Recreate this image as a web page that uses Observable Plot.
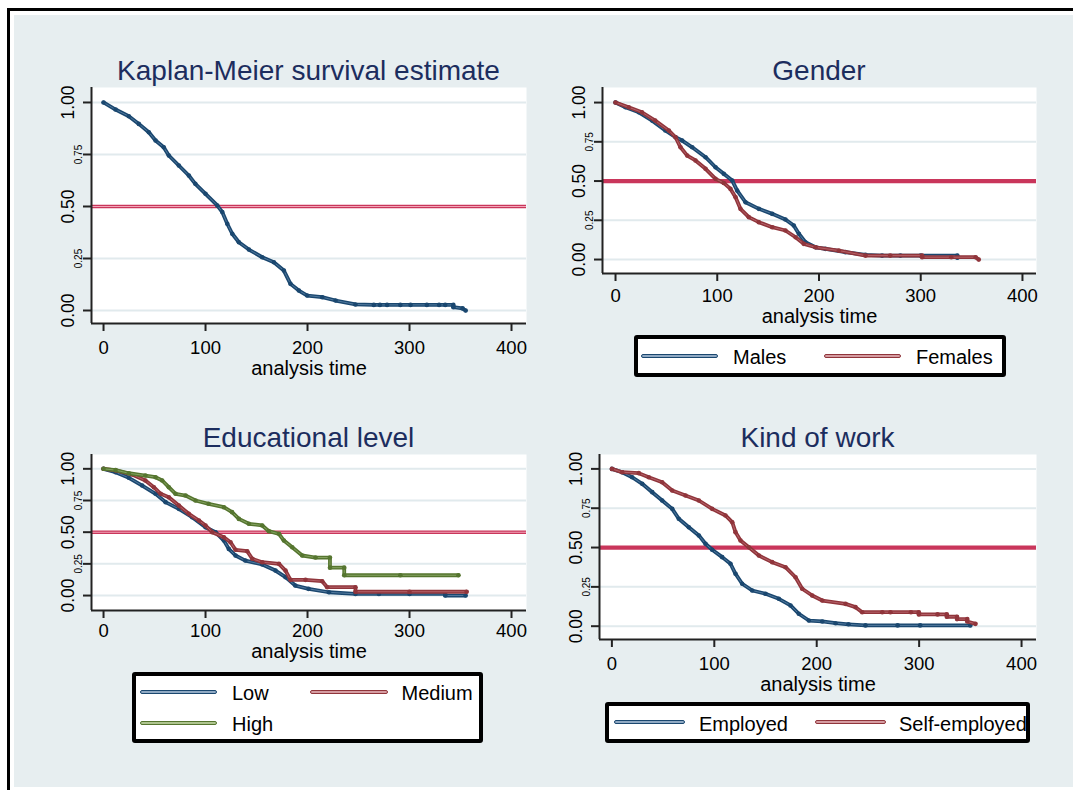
<!DOCTYPE html>
<html><head><meta charset="utf-8">
<script src="https://cdn.jsdelivr.net/npm/d3@7"></script>
<script src="https://cdn.jsdelivr.net/npm/@observablehq/plot@0.6"></script>
<style>
body{margin:0;background:#fff;font-family:"Liberation Sans",Arial,sans-serif;}
#root{position:relative;width:1073px;height:790px;overflow:hidden;}
.abs{position:absolute;}
.title{position:absolute;font-size:28px;line-height:28px;color:#1c2d5e;white-space:nowrap;transform:translateX(-50%);}
.legend{position:absolute;box-sizing:border-box;border:4px solid #000;border-radius:3px;background:#fff;}
.ltxt{position:absolute;font-size:20px;line-height:20px;color:#000;white-space:nowrap;}
.lkey{position:absolute;box-sizing:border-box;height:4px;border-radius:2px;border:1px solid;}
</style></head><body><div id="root"></div>
<script>
// ---------- data ----------
const xTicks = [0, 100, 200, 300, 400];
const yTicks = [0, 0.25, 0.5, 0.75, 1];
const yMajor = [0, 0.5, 1];
const yMinor = [0.25, 0.75];
const refLevel = [0.5];
const xTitle = "analysis time";
const titles = ["Kaplan-Meier survival estimate", "Gender", "Educational level", "Kind of work"];
const legendGender = ["Males", "Females"];
const legendEdu = ["Low", "Medium", "High"];
const legendWork = ["Employed", "Self-employed"];

// [analysis time, survival]
const kmAll = [[0,1.0],[11.8,0.966],[24.8,0.934],[34.6,0.897],[44.4,0.857],[51,0.817],[59,0.785],[64,0.745],[73.8,0.697],[83.6,0.649],[90,0.609],[100,0.561],[111.5,0.505],[116.4,0.473],[121.3,0.417],[126.2,0.369],[132.7,0.328],[142.5,0.293],[155.6,0.256],[167,0.232],[176.8,0.192],[183.3,0.128],[191.5,0.096],[199.7,0.072],[214.4,0.064],[227.5,0.048],[247,0.029],[265,0.027],[271,0.027],[278,0.027],[291,0.027],[301,0.027],[317,0.027],[329,0.027],[335,0.027],[343,0.027],[343,0.016],[352,0.010],[355,0.0]];

const males = [[0,1],[9.8,0.970],[22.9,0.938],[36,0.885],[49,0.822],[59,0.779],[65.5,0.758],[75.4,0.715],[88.5,0.652],[98.3,0.588],[106.4,0.546],[114.7,0.503],[119.6,0.439],[127.8,0.365],[140.9,0.323],[154,0.291],[167,0.255],[175.2,0.217],[180.2,0.164],[186.7,0.110],[196.6,0.078],[206.4,0.068],[226,0.047],[245.7,0.030],[262,0.025],[280,0.025],[300,0.025],[336,0.025],[336,0.012]];
const females = [[0,1],[13,0.97],[26,0.938],[39,0.885],[52.4,0.822],[59,0.779],[63.9,0.715],[70.5,0.662],[78.6,0.631],[88.5,0.578],[98.3,0.514],[106.4,0.488],[113,0.450],[118,0.397],[122.8,0.323],[131,0.270],[140.8,0.238],[154,0.206],[167,0.185],[177,0.142],[185,0.100],[196.6,0.078],[219.5,0.057],[245.7,0.025],[270,0.025],[301.4,0.025],[301.4,0.015],[330,0.015],[354,0.015],[357,0.0]];

const eduLow = [[0,1],[11.8,0.973],[24.8,0.929],[37.9,0.868],[51,0.803],[60.8,0.737],[73.8,0.684],[86.9,0.618],[100,0.539],[109.8,0.500],[118,0.434],[122.8,0.368],[129.4,0.316],[139,0.276],[155.6,0.245],[168.6,0.197],[178.4,0.145],[188,0.079],[201,0.053],[220.9,0.026],[247,0.013],[270,0.013],[300,0.013],[335,0.013],[335,0.0],[355,0.0]];
const eduMedium = [[0,1],[11.8,0.987],[28,0.955],[41,0.908],[49.3,0.855],[56,0.803],[64,0.776],[73.8,0.710],[83.6,0.645],[93.5,0.592],[100,0.553],[106.5,0.500],[118,0.460],[124.5,0.421],[129.4,0.361],[140.9,0.350],[145.8,0.290],[155.6,0.263],[172,0.250],[178.4,0.197],[183.3,0.124],[198,0.124],[214.4,0.113],[219.3,0.066],[247,0.066],[247,0.03],[300,0.03],[356,0.03]];
const eduHigh = [[0,1],[11.8,0.99],[24.8,0.965],[41,0.947],[51,0.934],[57.5,0.908],[64,0.855],[70.6,0.803],[80.4,0.789],[90.2,0.750],[103,0.724],[118,0.697],[126,0.658],[132.7,0.605],[142.5,0.566],[155.6,0.553],[162,0.508],[172,0.487],[176.8,0.434],[185,0.381],[194.8,0.316],[207.8,0.30],[222,0.30],[222,0.22],[236,0.22],[236,0.16],[291,0.16],[348,0.16]];

const employed = [[0,1],[10,0.979],[19.8,0.947],[29.6,0.905],[39.4,0.852],[49.1,0.799],[58.9,0.746],[65.3,0.683],[75.1,0.629],[84.9,0.577],[91.4,0.524],[97.9,0.486],[107.7,0.439],[115.8,0.397],[120.7,0.333],[127.2,0.270],[137,0.227],[150,0.206],[163,0.174],[174.4,0.132],[182.5,0.079],[192.3,0.036],[205.4,0.030],[218.4,0.019],[231,0.012],[247.6,0.005],[279,0.005],[301,0.005],[350,0.005]];
const selfEmployed = [[0,1],[10,0.979],[26.3,0.973],[36,0.947],[49.1,0.915],[58.9,0.863],[71.9,0.831],[84.9,0.799],[97.9,0.746],[110.9,0.704],[117.5,0.661],[120.7,0.598],[125.6,0.545],[133.7,0.502],[143.5,0.449],[156.5,0.407],[169.5,0.375],[179.3,0.311],[185.8,0.238],[195.6,0.195],[205.4,0.163],[228.1,0.142],[237.9,0.121],[244.4,0.089],[264,0.089],[272,0.089],[292,0.089],[299.7,0.089],[299.7,0.075],[318,0.075],[327,0.075],[327,0.06],[337,0.06],[337,0.045],[347,0.045],[347,0.03],[355,0.015]];

// ---------- styles ----------
const C = {navy: "#1a476f", maroon: "#90353b", green: "#55752f"};
const T = {navy: "#587fa3", maroon: "#b9676e", green: "#8aa766"};
const K = {navy: "#8fa9c3", maroon: "#d59ca1", green: "#aec48f"};
const refDark = "#c9365b", refLight = "#f2a6b9";

const root = document.getElementById("root");
function el(cls, style, text) {
  const d = document.createElement("div");
  d.className = cls;
  Object.assign(d.style, style);
  if (text != null) d.textContent = text;
  root.appendChild(d);
  return d;
}
// outer frame and background
el("abs", {left: "7px", top: "8px", width: "1100px", height: "800px", border: "3px solid #000", boxSizing: "border-box"});
el("abs", {left: "14px", top: "15px", width: "1059px", height: "772px", background: "#e7eef0"});

const panels = [
  {rect: [91, 526, 87, 323], xd: [-11.8, 414.7], yd: [-0.0625, 1.072], title: titles[0], tb: 81, tickDy: 30, labDy: 51, thin: true,
   series: [{d: kmAll, c: "navy"}]},
  {rect: [602, 1036, 87, 273], xd: [-12.8, 413.8], yd: [-0.089, 1.096], title: titles[1], tb: 81, tickDy: 28, labDy: 49.5, thin: false,
   series: [{d: males, c: "navy"}, {d: females, c: "maroon"}]},
  {rect: [91, 526, 454, 610], xd: [-11.8, 414.7], yd: [-0.118, 1.113], title: titles[2], tb: 447.7, tickDy: 26.5, labDy: 47.5, thin: true,
   series: [{d: eduLow, c: "navy"}, {d: eduMedium, c: "maroon"}, {d: eduHigh, c: "green"}]},
  {rect: [599, 1036, 454, 639], xd: [-12.1, 414.6], yd: [-0.0846, 1.0915], title: titles[3], tb: 447.7, tickDy: 30, labDy: 51.5, thin: false,
   series: [{d: employed, c: "navy"}, {d: selfEmployed, c: "maroon"}]}
];

const mL = 70, mR = 6, mT = 6, mB = 66;
const fx = d => d[0], fy = d => d[1];

for (const p of panels) {
  const [x0, x1, y0, y1] = p.rect;
  const W = mL + (x1 - x0) + mR, H = mT + (y1 - y0) + mB;
  const marks = [
    Plot.frame({fill: "white", stroke: "none"}),
    Plot.gridY({ticks: yTicks, stroke: "#e1eaed", strokeOpacity: 1, strokeWidth: 2})
  ];
  if (p.thin) {
    marks.push(Plot.ruleY(refLevel, {stroke: refDark, strokeWidth: 3.4}));
    marks.push(Plot.ruleY(refLevel, {stroke: refLight, strokeWidth: 1.1}));
  } else {
    marks.push(Plot.ruleY(refLevel, {stroke: refDark, strokeWidth: 4.2}));
  }
  for (const s of p.series) {
    marks.push(Plot.line(s.d, {x: fx, y: fy, stroke: C[s.c], strokeWidth: 3.8, strokeLinejoin: "round", strokeLinecap: "round"}));
    marks.push(Plot.line(s.d, {x: fx, y: fy, stroke: T[s.c], strokeWidth: 0.9}));
    marks.push(Plot.dot(s.d, {x: fx, y: fy, r: 2.3, fill: C[s.c], stroke: "none"}));
  }
  marks.push(
    Plot.ruleX([p.xd[0]], {stroke: "#222", strokeWidth: 2}),
    Plot.ruleY([p.yd[0]], {stroke: "#222", strokeWidth: 2}),
    Plot.axisX({ticks: xTicks, tickSize: 8, tickFormat: () => "", label: null, stroke: "#222", strokeWidth: 2}),
    Plot.axisY({ticks: yTicks, tickSize: 8, tickFormat: () => "", label: null, stroke: "#222", strokeWidth: 2}),
    Plot.text(xTicks, {x: d => d, text: d => String(d), frameAnchor: "bottom", dy: p.tickDy, fontSize: 18.5, fill: "#000"}),
    Plot.text([xTitle], {frameAnchor: "bottom", text: d => d, dy: p.labDy, fontSize: 20, fill: "#000"}),
    Plot.text(yMajor, {y: d => d, text: d => d.toFixed(2), frameAnchor: "left", textAnchor: "middle", rotate: -90, dx: -23, fontSize: 17.5, fill: "#000"}),
    Plot.text(yMinor, {y: d => d, text: d => d.toFixed(2), frameAnchor: "left", textAnchor: "middle", rotate: -90, dx: -13, fontSize: 10, fill: "#000"})
  );
  const svg = Plot.plot({
    width: W, height: H,
    marginLeft: mL, marginRight: mR, marginTop: mT, marginBottom: mB,
    x: {domain: p.xd},
    y: {domain: p.yd},
    style: {background: "transparent", fontFamily: "Liberation Sans, Arial, sans-serif", overflow: "visible"},
    marks
  });
  svg.style.position = "absolute";
  svg.style.left = (x0 - mL) + "px";
  svg.style.top = (y0 - mT) + "px";
  root.appendChild(svg);
  el("title", {left: ((x0 + x1) / 2) + "px", top: (p.tb - 28 * 0.8465) + "px"}, p.title);
}

// ---------- legends ----------
function legend(box, items) {
  const [l, r, t, b] = box;
  el("legend", {left: l + "px", top: t + "px", width: (r - l) + "px", height: (b - t) + "px"});
  for (const it of items) {
    el("lkey", {left: it.k0 + "px", width: (it.k1 - it.k0) + "px", top: (it.ky - 2) + "px", borderColor: C[it.c], background: K[it.c]});
    el("ltxt", {left: it.tx + "px", top: (it.ty - 10) + "px"}, it.label);
  }
}
legend([633.5, 1006, 335, 377], [
  {label: legendGender[0], c: "navy", k0: 641, k1: 718, ky: 355.5, tx: 733, ty: 357},
  {label: legendGender[1], c: "maroon", k0: 824, k1: 901, ky: 355.5, tx: 916, ty: 357}
]);
legend([132, 483, 672, 743], [
  {label: legendEdu[0], c: "navy", k0: 140, k1: 217, ky: 692, tx: 232, ty: 692.5},
  {label: legendEdu[1], c: "maroon", k0: 310, k1: 388, ky: 692, tx: 401.5, ty: 692.5},
  {label: legendEdu[2], c: "green", k0: 140, k1: 217, ky: 722.5, tx: 232, ty: 724}
]);
legend([604.5, 1030, 702, 743], [
  {label: legendWork[0], c: "navy", k0: 614, k1: 685, ky: 722.3, tx: 699, ty: 723.5},
  {label: legendWork[1], c: "maroon", k0: 815, k1: 886, ky: 722.3, tx: 899, ty: 723.5}
]);
</script></body></html>
